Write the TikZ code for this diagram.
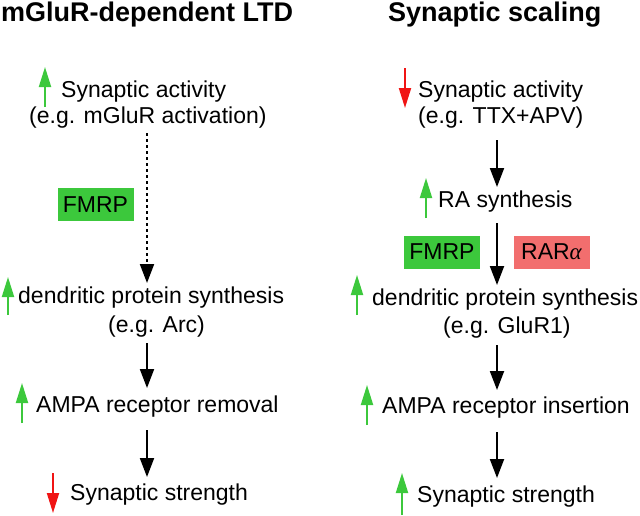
\documentclass[tikz,border=0pt]{standalone}
\usepackage{fontspec}
\setmainfont{Liberation Sans}
\newfontfamily\grkfont{Liberation Serif}
\usetikzlibrary{arrows.meta,calc}
\definecolor{boxgreen}{RGB}{60,200,60}
\definecolor{boxred}{RGB}{242,110,110}
\definecolor{arrgreen}{RGB}{60,200,60}
\definecolor{arrred}{RGB}{240,20,20}
\begin{document}
\begin{tikzpicture}[x=1pt,y=-1pt,
 lbl/.style={anchor=base west, inner sep=0pt, font=\fontsize{23}{27}\selectfont},
 ttl/.style={anchor=base west, inner sep=0pt, font=\fontsize{27}{32}\selectfont\bfseries},
 flow/.style={line width=2pt, -{Triangle[length=19pt,width=14pt]}},
 dotflow/.style={flow, dash pattern=on 3pt off 3pt},
 upmark/.style={line width=2pt, arrgreen, -{Triangle[length=20pt,width=12pt]}},
 downmark/.style={line width=2pt, arrred, -{Triangle[length=20pt,width=12pt]}},
 factor/.style={inner sep=0pt, minimum width=76pt, minimum height=33pt, font=\fontsize{23}{27}\selectfont},
]
\useasboundingbox (0,0) rectangle (640,515);
% titles
\node[ttl] (t1) at (1,21) {mGluR-dependent LTD};
\node[ttl] (t2) at (388,21) {Synaptic scaling};
% left column
\coordinate (colL) at (147,0);
\node[lbl] (la1) at (61,97) {Synaptic activity};
\node[lbl] (la2) at (29,123) {(e.g. mGluR activation)};
\node[factor, fill=boxgreen] (lf) at (95.5,204.5) {FMRP};
\node[lbl] (ld1) at (18,303) {dendritic protein synthesis};
\node[lbl] (ld2) at (108,332) {(e.g. Arc)};
\node[lbl] (lam) at (36,412) {AMPA receptor removal};
\node[lbl] (lst) at (70,500) {Synaptic strength};
\draw[dotflow, shorten <=10pt, shorten >=20pt] (la2.base -| colL) -- (ld1.base -| colL);
\draw[flow, shorten <=11pt, shorten >=24pt] (ld2.base -| colL) -- (lam.base -| colL);
\draw[flow, shorten <=18pt, shorten >=23pt] (lam.base -| colL) -- (lst.base -| colL);
\draw[upmark] (45,107) -- (45,67);
\draw[upmark] (8,315) -- (8,277);
\draw[upmark] (22,423) -- (22,383);
\draw[downmark] (53,473) -- (53,513);
% right column
\coordinate (colR) at (497,0);
\node[lbl] (ra1) at (418,97) {Synaptic activity};
\node[lbl] (ra2) at (418,123) {(e.g. TTX+APV)};
\node[lbl] (rra) at (438,207) {RA synthesis};
\node[factor, fill=boxgreen] (rf) at (442,252) {FMRP};
\node[factor, fill=boxred] (rr) at (551.5,252) {RAR{\grkfont\itshape α}};
\node[lbl] (rd1) at (372,305) {dendritic protein synthesis};
\node[lbl] (rd2) at (443,333) {(e.g. GluR1)};
\node[lbl] (ram) at (382,413) {AMPA receptor insertion};
\node[lbl] (rst) at (417,502) {Synaptic strength};
\draw[flow, shorten <=17pt, shorten >=20pt] (ra2.base -| colR) -- (rra.base -| colR);
\draw[flow, shorten <=16pt, shorten >=20pt] (rra.base -| colR) -- (rd1.base -| colR);
\draw[flow, shorten <=12pt, shorten >=23pt] (rd2.base -| colR) -- (ram.base -| colR);
\draw[flow, shorten <=19pt, shorten >=24pt] (ram.base -| colR) -- (rst.base -| colR);
\draw[downmark] (405,68) -- (405,108);
\draw[upmark] (426,218) -- (426,178);
\draw[upmark] (357,315) -- (357,275);
\draw[upmark] (367,425) -- (367,385);
\draw[upmark] (402,515) -- (402,473);
\end{tikzpicture}
\end{document}
